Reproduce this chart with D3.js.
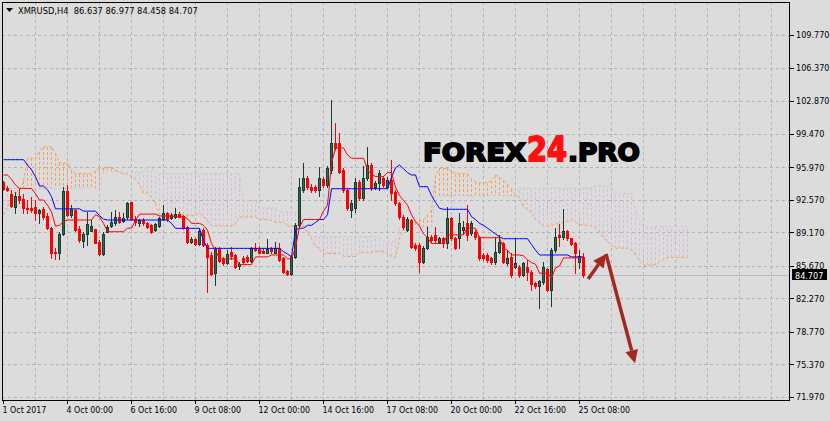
<!DOCTYPE html>
<html><head><meta charset="utf-8">
<script src="https://cdn.jsdelivr.net/npm/d3@7"></script>
<style>
html,body{margin:0;padding:0;background:#dcdcdc;}
svg{display:block;}
</style></head><body>
<svg id="c" width="830" height="421"></svg>
<script>
// ---------------- DATA ----------------
const symbolTitle = "XMRUSD,H4  86.637 86.977 84.458 84.707";
const xTickIdx = [0,16,32,48,64,80,96,112,128,144];
const xTickLabels = ["1 Oct 2017","4 Oct 00:00","6 Oct 16:00","9 Oct 08:00","12 Oct 00:00","14 Oct 16:00","17 Oct 08:00","20 Oct 00:00","22 Oct 16:00","25 Oct 08:00"];
const yTicks = [71.97,75.37,78.77,82.27,85.67,89.17,92.57,95.97,99.47,102.87,106.37,109.77];
const lastPrice = 84.707;

const open = [94.39,93.82,93.13,91.80,92.98,92.60,91.70,91.70,91.80,91.20,
91.57,90.90,89.65,87.10,86.96,89.03,93.45,90.94,91.54,89.48,
88.29,89.00,89.30,89.50,88.18,86.87,89.20,89.80,90.10,90.80,
90.30,90.80,92.30,90.60,90.10,90.50,90.10,89.93,89.41,89.86,
90.52,91.14,90.62,90.73,91.07,90.87,89.75,88.19,88.50,87.95,
89.41,87.84,86.80,84.88,87.39,86.35,85.93,87.15,86.80,85.65,
86.45,86.62,86.21,87.56,87.42,87.20,87.04,87.42,87.04,87.49,
86.45,85.13,84.81,86.62,89.93,93.60,94.80,93.93,93.86,93.60,
94.70,94.10,95.67,98.46,98.46,95.67,93.58,91.50,91.67,94.45,
92.71,94.80,96.20,93.86,94.28,94.80,93.93,94.63,93.40,92.19,
90.80,89.41,90.45,87.84,87.84,86.10,87.50,88.71,88.90,88.20,
88.54,88.02,90.62,88.54,88.54,89.40,90.10,89.06,89.20,88.71,
86.80,86.80,86.45,86.10,87.15,88.02,85.93,86.62,85.58,85.58,
84.71,85.58,85.06,83.90,83.56,84.00,85.30,83.14,87.32,88.88,
88.70,89.30,88.54,88.08,86.10,86.637];
const high = [94.50,94.00,93.58,93.40,93.76,93.20,92.54,92.90,92.54,91.64,
91.85,91.14,89.76,87.53,89.20,93.90,94.07,92.00,91.64,89.80,
89.23,91.30,90.45,89.50,88.36,89.20,89.90,91.30,91.50,91.30,
91.20,92.36,92.36,90.90,90.60,90.70,90.20,90.00,90.10,90.73,
92.02,91.30,91.20,91.67,91.30,90.97,89.82,88.71,88.60,89.48,
89.58,88.00,87.15,87.67,87.67,86.62,87.32,87.60,86.87,86.10,
86.70,86.80,87.60,88.00,87.73,87.49,88.43,87.67,88.19,88.08,
86.62,85.23,86.80,90.10,94.80,96.44,95.00,94.20,94.10,95.95,
94.90,96.10,103.00,100.54,99.57,95.90,93.76,92.54,94.80,94.60,
96.09,98.10,96.40,94.50,95.67,95.00,94.90,96.70,93.60,92.30,
91.00,90.80,90.60,88.00,88.00,87.70,89.76,88.90,89.76,88.70,
88.70,91.84,90.80,88.70,91.15,90.40,92.00,90.40,89.40,88.80,
87.00,87.00,86.60,88.70,88.90,88.20,87.30,86.97,88.54,85.80,
86.10,86.28,85.20,84.00,84.20,86.10,85.40,87.50,89.58,90.00,
91.57,89.40,88.60,88.20,87.32,86.977];
const low = [93.58,93.50,91.80,91.14,92.19,91.15,91.15,91.30,90.50,90.17,
90.60,89.55,86.44,86.37,86.37,88.86,90.90,90.77,89.34,88.20,
87.67,87.84,89.27,88.00,86.80,86.80,89.20,89.70,89.90,90.10,
90.20,90.60,90.50,89.90,89.80,89.95,89.60,89.10,89.30,89.75,
90.45,90.40,90.52,90.62,90.73,89.50,88.08,88.08,87.85,87.84,
87.73,82.97,84.71,83.66,86.10,85.75,85.86,86.35,85.40,85.30,
85.93,86.10,86.10,87.20,86.97,86.97,86.97,86.97,86.97,86.21,
84.95,84.71,84.71,86.45,89.70,93.40,93.70,93.40,93.40,92.96,
93.90,93.90,95.32,97.76,95.32,93.40,91.50,90.80,91.32,92.50,
92.54,94.60,93.60,93.70,93.58,93.90,93.80,92.54,92.00,90.60,
89.50,89.30,87.50,87.30,85.06,86.00,87.40,88.20,88.20,88.00,
87.60,87.50,88.40,87.40,87.50,89.00,88.36,88.90,88.50,86.30,
86.30,86.10,85.90,85.90,87.00,86.00,85.75,84.54,85.40,84.50,
84.60,84.20,83.14,83.40,81.30,83.80,83.00,81.47,87.15,87.70,
88.50,88.40,87.80,84.96,85.40,84.458];
const close = [93.66,93.58,91.88,92.98,92.56,91.75,91.60,91.50,91.15,91.45,
90.73,89.65,86.96,86.96,89.03,93.45,90.94,91.64,89.41,88.36,
88.99,90.03,89.80,88.07,86.90,89.03,89.73,90.20,90.80,90.20,
90.70,92.20,90.60,90.20,90.50,90.10,89.76,89.23,90.00,90.62,
91.14,90.52,90.97,91.07,90.80,89.58,88.19,88.47,87.95,89.34,
87.84,86.62,84.81,87.39,86.21,85.93,86.90,86.70,85.58,85.86,
86.10,86.21,87.49,87.32,87.04,87.04,87.39,87.20,87.49,86.28,
85.06,84.81,86.62,89.93,93.93,94.80,93.90,93.58,93.60,94.80,
94.10,95.85,98.53,97.93,95.50,93.58,91.67,92.19,94.45,92.71,
94.80,96.20,93.76,94.28,95.32,94.10,94.63,93.24,92.19,90.80,
89.76,90.60,87.67,87.50,86.10,87.50,88.71,88.36,88.36,88.54,
88.02,90.62,88.54,87.50,90.10,89.76,88.88,90.10,88.71,86.45,
86.45,86.28,86.10,87.15,88.20,86.10,86.45,84.71,85.93,84.71,
85.93,85.06,83.80,83.56,84.10,85.50,83.14,87.32,88.71,88.70,
89.30,88.54,87.90,86.97,86.70,84.707];

// Ichimoku
const tenkan = [95.15,95.15,94.7,94.1,93.75,93.75,93.75,93.75,93.2,92.54,
92.54,92.0,91.3,89.8,89.9,90.3,90.45,90.45,90.45,90.45,
90.45,90.45,90.45,91.0,90.8,90.1,89.23,89.23,89.23,89.23,
89.23,89.6,89.6,90.4,91.07,91.07,91.07,91.07,91.07,90.87,
90.87,90.87,90.87,90.8,90.8,90.8,90.6,90.1,90.1,90.1,
89.9,89.4,88.0,87.3,86.4,86.4,86.4,86.4,86.4,85.8,
85.8,85.8,85.8,86.6,86.6,86.6,86.6,86.8,86.8,86.8,
86.8,86.4,86.4,87.6,89.7,90.5,90.5,90.5,90.5,90.5,
91.4,92.0,96.35,97.98,97.98,97.98,97.25,96.9,96.9,96.9,
96.9,95.7,95.2,95.0,95.0,95.0,95.4,95.4,93.9,93.0,
92.5,92.0,91.0,90.3,89.8,89.0,88.6,88.0,88.0,88.0,
88.0,88.9,88.9,88.9,88.9,88.9,89.6,89.6,89.6,88.6,
88.6,88.6,88.6,88.6,88.6,87.5,87.3,86.8,86.8,86.8,
86.7,86.3,86.0,85.84,84.9,84.9,84.9,84.4,85.44,85.65,
86.5,86.5,86.5,86.5,86.5,86.5];
const kijun = [96.75,96.75,96.75,96.75,96.75,96.75,96.2,95.7,94.97,94.0,
94.0,93.6,92.9,91.62,91.62,91.62,91.62,91.62,91.62,91.62,
91.38,91.38,91.38,91.38,90.9,90.55,90.45,90.45,90.45,90.45,
90.45,90.45,90.45,90.45,90.45,90.45,90.45,90.45,90.45,90.45,
90.45,90.45,90.1,89.58,89.58,89.58,89.58,89.58,89.58,89.58,
88.3,87.49,87.49,87.49,87.49,87.49,87.49,87.49,87.49,87.49,
87.49,87.49,87.49,87.49,87.49,87.49,87.49,87.49,87.49,87.49,
87.15,86.9,86.6,89.4,89.6,89.6,89.9,89.9,90.2,90.5,
90.5,91.0,93.72,93.72,93.72,93.72,93.72,93.72,93.72,93.72,
93.72,93.72,93.72,93.72,93.72,93.72,93.72,94.9,95.9,96.2,
95.8,95.4,95.15,95.15,93.93,93.93,93.93,93.0,92.3,91.67,
91.57,91.57,91.57,91.57,91.57,91.57,91.57,90.8,90.5,90.1,
89.9,89.6,89.3,89.0,88.7,88.5,88.5,88.5,88.5,88.5,
88.5,88.5,87.9,87.3,86.8,86.8,86.8,86.8,86.8,86.8,
86.8,86.8,86.6,86.6,86.6,86.6];
const spanA = [91.0,91.8,92.6,93.2,93.6,94.5,96.9,96.9,96.9,97.6,
98.1,98.1,98.1,97.4,96.4,96.4,96.36,95.6,95.3,95.3,
95.3,95.3,95.3,95.6,95.84,95.84,95.95,95.9,95.7,95.4,
95.25,95.25,94.97,94.7,94.1,93.27,93.27,92.8,92.1,90.9,
90.9,91.0,91.03,91.03,91.03,91.03,90.9,90.9,90.9,91.2,
90.85,90.3,89.84,89.84,89.84,89.84,89.84,89.84,90.0,90.76,
90.76,90.76,90.76,90.76,90.5,90.5,90.5,90.4,90.2,90.2,
90.2,89.8,89.8,89.8,89.8,89.8,89.1,88.45,87.75,87.4,
86.95,86.95,86.95,86.95,86.95,86.65,86.65,86.65,86.65,87.05,
87.05,87.05,87.05,87.15,87.15,87.15,86.98,86.65,86.5,88.5,
89.65,90.05,90.2,90.2,90.35,90.5,90.95,91.5,95.05,95.85,
95.85,95.85,95.5,95.3,95.3,95.3,95.3,94.7,94.46,94.36,
94.36,94.36,94.56,95.15,94.9,94.6,94.15,93.7,93.1,92.7,
91.9,91.5,91.3,90.5,90.15,89.8,89.8,89.9,90.0,90.1,
90.2,90.3,90.45,90.2,90.05,89.9,89.9,89.8,89.6,89.2,
88.6,88.2,87.8,87.5,87.5,87.5,87.5,87.3,86.8,86.2,
85.75,85.75,85.75,85.8,86.1,86.3,86.55,86.55,86.55,86.55,
86.55,86.55];
const spanB = [93.76,93.76,93.76,93.76,93.76,93.76,93.76,93.76,93.76,93.76,
93.76,93.76,93.76,93.76,93.76,93.76,93.76,93.76,93.76,93.76,
93.76,93.76,93.76,93.76,93.76,95.5,95.5,95.5,95.5,95.5,
95.5,95.5,95.5,95.5,95.5,95.5,96.0,96.0,95.3,95.3,
95.3,95.3,95.3,95.3,95.3,95.3,95.3,95.3,95.3,95.3,
95.3,95.3,95.3,95.3,95.3,95.3,95.3,95.3,95.3,95.3,
92.5,92.5,92.5,92.5,91.7,91.7,91.7,91.7,91.7,91.3,
91.3,91.3,91.3,91.3,91.3,90.0,89.6,88.7,88.7,88.7,
88.7,88.7,88.7,88.7,88.7,88.7,88.7,88.7,88.7,88.7,
88.7,88.7,88.7,88.7,88.7,88.2,88.2,88.2,88.2,89.7,
89.7,89.7,89.7,89.7,89.7,89.7,89.7,89.7,93.0,93.0,
93.0,93.0,93.0,93.0,93.0,93.0,93.0,93.0,93.0,93.0,
93.0,93.0,93.0,93.0,93.0,93.0,93.0,93.0,93.0,93.76,
93.76,93.76,93.76,93.76,93.76,93.76,93.76,93.76,93.76,93.76,
93.76,93.76,93.76,93.76,93.76,93.76,93.76,93.76,94.0,94.0,
94.0,94.0,94.0,93.2,93.2,93.2,93.2,93.2,91.5,90.4,
89.76,89.76,89.76,89.76,89.76,89.76,89.76,89.76,89.76,89.76,
89.76,89.76];

// forecast arrows (bar index, price)
const arrowUp = [[146.3, 84.29],[150.75, 86.90]];
const arrowDown = [[150.75, 86.90],[158.0, 75.50]];

// ---------------- DRAW ----------------
const svg = d3.select("#c");
const PL = 2, PT = 2, PR = 790, PB = 400;
const x = d3.scaleLinear().domain([0, 1]).range([3, 7]);
const y = d3.scaleLinear().domain([71.97, 109.77]).range([397, 35]);
const axisFont = "'DejaVu Sans Condensed','DejaVu Sans',sans-serif";
const BG = "#dcdcdc", GRID = "#b4b4b4";
const BULL = "#2f6b57", BULL_EDGE = "#1b3b31", BEAR = "#ff0000";
const ARROW = "#a3281f";

svg.append("rect").attr("width", 830).attr("height", 421).attr("fill", BG);

svg.append("defs").append("clipPath").attr("id", "plot")
  .append("rect").attr("x", PL).attr("y", PT).attr("width", PR - PL).attr("height", PB - PT);

const grid = svg.append("g").attr("shape-rendering", "crispEdges");
const vIdx = d3.range(8, 200, 8).filter(i => x(i) < PR - 1);
grid.selectAll("line.v").data(vIdx).join("line")
  .attr("x1", i => Math.round(x(i)) + 0.5).attr("x2", i => Math.round(x(i)) + 0.5)
  .attr("y1", PT).attr("y2", PB)
  .attr("stroke", GRID).attr("stroke-dasharray", "3,3");
grid.selectAll("line.h").data(yTicks).join("line")
  .attr("x1", PL).attr("x2", PR)
  .attr("y1", d => Math.round(y(d)) + 0.5).attr("y2", d => Math.round(y(d)) + 0.5)
  .attr("stroke", GRID).attr("stroke-dasharray", "3,3");

// last price line
svg.append("line").attr("shape-rendering", "crispEdges")
  .attr("x1", PL).attr("x2", PR)
  .attr("y1", Math.round(y(lastPrice)) + 0.5).attr("y2", Math.round(y(lastPrice)) + 0.5)
  .attr("stroke", "#bcbcbc");

const plotG = svg.append("g").attr("clip-path", "url(#plot)");

// cloud hatch
const cIdx = d3.range(spanA.length);
plotG.append("g").attr("shape-rendering", "crispEdges")
  .selectAll("line").data(cIdx).join("line")
  .attr("x1", i => Math.round(x(i)) + 0.5).attr("x2", i => Math.round(x(i)) + 0.5)
  .attr("y1", i => y(spanA[i])).attr("y2", i => y(spanB[i]))
  .attr("stroke", i => spanA[i] >= spanB[i] ? "#f4a460" : "#d8bfd8")
  .attr("stroke-dasharray", "3,2");

const line = d3.line().x((d, i) => Math.round(x(i)) + 0.5).y(d => y(d));
plotG.append("path").attr("d", line(spanB)).attr("fill", "none")
  .attr("stroke", "#d8bfd8").attr("stroke-width", 1).attr("stroke-dasharray", "3,2");
plotG.append("path").attr("d", line(spanA)).attr("fill", "none")
  .attr("stroke", "#f4a460").attr("stroke-width", 1).attr("stroke-dasharray", "3,2");

// candles
const idx = d3.range(open.length);
const cg = plotG.append("g").attr("shape-rendering", "crispEdges");
cg.selectAll("line.wick").data(idx).join("line")
  .attr("x1", i => Math.round(x(i)) + 0.5).attr("x2", i => Math.round(x(i)) + 0.5)
  .attr("y1", i => Math.round(y(high[i]))).attr("y2", i => Math.round(y(low[i])) + 1)
  .attr("stroke", i => close[i] >= open[i] ? BULL_EDGE : BEAR);
cg.selectAll("rect.body").data(idx).join("rect")
  .each(function(i) {
    const up = close[i] >= open[i];
    const top = Math.round(y(Math.max(open[i], close[i])));
    const bot = Math.round(y(Math.min(open[i], close[i])));
    const cx = Math.round(x(i));
    const r = d3.select(this);
    if (up) {
      r.attr("x", cx - 0.5).attr("y", top + 0.5).attr("width", 2).attr("height", Math.max(0, bot - top))
        .attr("fill", BULL).attr("stroke", BULL_EDGE).attr("stroke-width", 1);
    } else {
      r.attr("x", cx - 1).attr("y", top).attr("width", 3).attr("height", Math.max(1, bot - top + 1))
        .attr("fill", BEAR);
    }
  });

// tenkan / kijun
plotG.append("path").attr("d", line(kijun)).attr("fill", "none").attr("stroke", "#0000ff").attr("stroke-width", 1);
plotG.append("path").attr("d", line(tenkan)).attr("fill", "none").attr("stroke", "#ff0000").attr("stroke-width", 1);

// frame
svg.append("rect").attr("x", PL + 0.5).attr("y", PT + 0.5).attr("width", PR - PL - 1).attr("height", PB - PT)
  .attr("fill", "none").attr("stroke", "#000").attr("shape-rendering", "crispEdges");

// axes
const yAxis = svg.append("g").attr("transform", `translate(${PR},0)`)
  .call(d3.axisRight(y).tickValues(yTicks).tickFormat(d3.format(".3f")).tickSize(4).tickPadding(2));
yAxis.select(".domain").remove();
yAxis.selectAll("text").attr("font-family", axisFont).attr("font-size", 9).attr("fill", "#000");
yAxis.attr("shape-rendering", "crispEdges");

const xAxis = svg.append("g").attr("transform", `translate(0,${PB})`)
  .call(d3.axisBottom(x).tickValues(xTickIdx).tickFormat((d, i) => xTickLabels[i]).tickSize(4).tickPadding(3));
xAxis.select(".domain").remove();
xAxis.selectAll("text").attr("font-family", axisFont).attr("font-size", 8.8).attr("fill", "#000")
  .attr("text-anchor", "start").attr("x", -1);
xAxis.attr("shape-rendering", "crispEdges");

// last price label
const ly = Math.round(y(lastPrice));
svg.append("rect").attr("x", 792).attr("y", ly - 6).attr("width", 35).attr("height", 11).attr("fill", "#000");
svg.append("text").attr("x", 795).attr("y", ly + 3.5).text(d3.format(".3f")(lastPrice))
  .attr("font-family", axisFont).attr("font-size", 9).attr("fill", "#fff");

// title
svg.append("path").attr("d", "M6,8 L13,8 L9.5,12 Z").attr("fill", "#000");
svg.append("text").attr("x", 18).attr("y", 13.5).text(symbolTitle)
  .attr("font-family", "'DejaVu Sans',sans-serif").attr("font-size", 8.3).attr("fill", "#000")
  .style("white-space", "pre");

// logo
const logo = svg.append("g").attr("font-family", "'DejaVu Sans',sans-serif").attr("font-weight", "bold");
logo.append("text").attr("x", 423).attr("y", 161).text("FOREX").attr("font-size", 25)
  .attr("fill", "#000").attr("stroke", "#000").attr("stroke-width", 1.8)
  .attr("textLength", 103).attr("lengthAdjust", "spacingAndGlyphs");
logo.append("text").attr("x", 527).attr("y", 161).text("24").attr("font-size", 33)
  .attr("fill", "#ff1010").attr("stroke", "#ff1010").attr("stroke-width", 1.8)
  .attr("textLength", 40).attr("lengthAdjust", "spacingAndGlyphs");
logo.append("text").attr("x", 568).attr("y", 161).text(".PRO").attr("font-size", 25)
  .attr("fill", "#000").attr("stroke", "#000").attr("stroke-width", 1.8)
  .attr("textLength", 72).attr("lengthAdjust", "spacingAndGlyphs");

// arrows
function drawArrow(pts) {
  const [x0, y0] = [x(pts[0][0]), y(pts[0][1])];
  const [x1, y1] = [x(pts[1][0]), y(pts[1][1])];
  const ang = Math.atan2(y1 - y0, x1 - x0);
  const hl = 13, hw = 6.5;
  const bx = x1 - hl * Math.cos(ang), by = y1 - hl * Math.sin(ang);
  svg.append("line").attr("x1", x0).attr("y1", y0).attr("x2", bx).attr("y2", by)
    .attr("stroke", ARROW).attr("stroke-width", 3.5);
  const px = -Math.sin(ang), py = Math.cos(ang);
  svg.append("path").attr("fill", ARROW)
    .attr("d", `M${x1},${y1} L${bx + px * hw},${by + py * hw} L${bx - px * hw},${by - py * hw} Z`);
}
drawArrow(arrowUp);
drawArrow(arrowDown);
</script>
</body></html>
